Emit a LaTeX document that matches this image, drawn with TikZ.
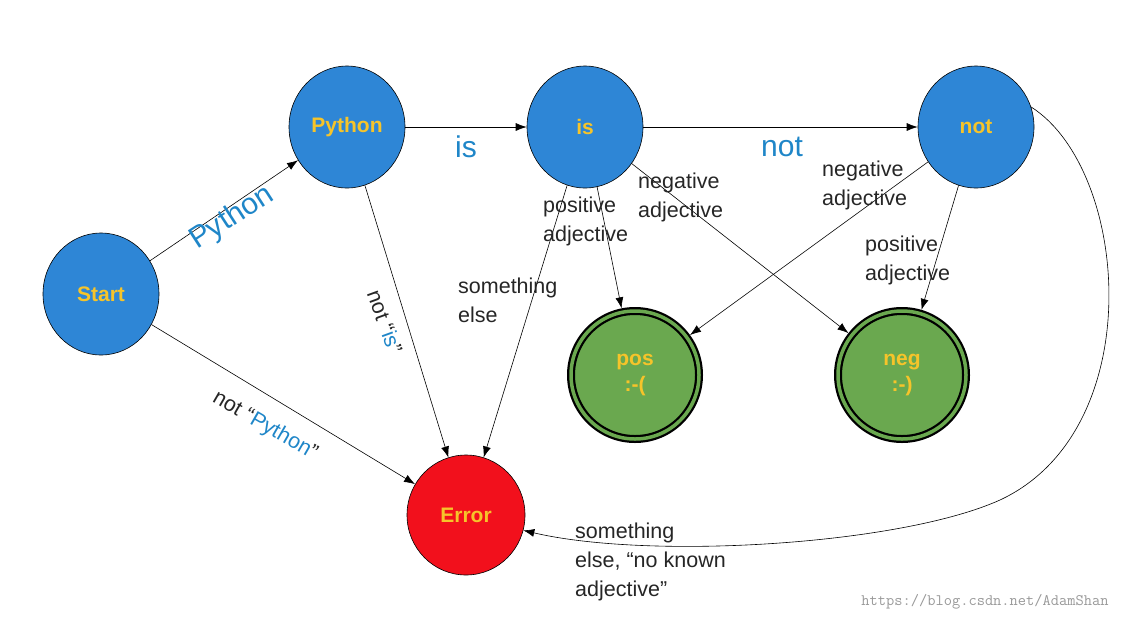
\documentclass[tikz,border=0pt]{standalone}
\usepackage{fontspec}
\setmainfont{Liberation Sans}
\usetikzlibrary{arrows.meta,shapes.geometric}
\definecolor{nblue}{HTML}{2E86D6}
\definecolor{ntxt}{HTML}{F6C42A}
\definecolor{nred}{HTML}{F2101C}
\definecolor{ngreen}{HTML}{6AA84F}
\definecolor{lblue}{HTML}{1F86C8}
\begin{document}
\begin{tikzpicture}[x=1pt,y=-1pt,
  st/.style={ellipse,draw=black,line width=0.6pt,fill=nblue,minimum width=116pt,minimum height=122pt,inner sep=0pt,text=ntxt,font=\fontsize{21}{23}\selectfont\bfseries},
  fin/.style={circle,draw=black,line width=8pt,fill=ngreen,minimum width=128pt,minimum height=128pt,inner sep=0pt,text=ntxt,font=\fontsize{21}{26}\selectfont\bfseries,align=center,
     postaction={draw=ngreen,line width=3.5pt}},
  e/.style={-{Latex[length=11pt,width=8pt]},line width=0.6pt},
  lb/.style={font=\fontsize{21.5}{29}\selectfont,text=black!85,align=left,inner sep=0pt},
  bl/.style={font=\fontsize{30}{32}\selectfont,text=lblue,inner sep=0pt}]
\useasboundingbox (0,0) rectangle (1146,622);
\node[st] (start) at (101,294) {Start};
\node[st] (python) at (347,127) {Python};
\node[st] (is) at (585,127) {is};
\node[st] (not) at (976,127) {not};
\node[st,fill=nred,minimum height=120pt,minimum width=118pt] (err) at (466,515) {Error};
\node[fin] (pos) at (635,375) {pos\\:-(};
\node[fin] (neg) at (902,375) {neg\\:-)};
\draw[e] (start) -- (python);
\draw[e] (python) -- (is);
\draw[e] (is) -- (not);
\draw[e] (start) -- (err);
\draw[e] (python) -- (err);
\draw[e] (is) -- (err);
\draw[e] (is) -- (pos);
\draw[e] (is) -- (neg);
\draw[e] (not) -- (pos);
\draw[e] (not) -- (neg);
\draw[e] (not.20) .. controls (1130,170) and (1150,430) .. (1000,500) .. controls (900,545) and (650,560) .. (err.-15);
\node[bl,rotate=33] (l1) at (232,218) {Python};
\node[bl] (l2) at (466,147) {is};
\node[bl] (l3) at (782,147) {not};
\node[lb,rotate=-70] (l4) at (385,322) {not “\textcolor{lblue}{is}”};
\node[lb,rotate=-30] (l5) at (265,426) {not “\textcolor{lblue}{Python}”};
\node[lb,anchor=west] (l6) at (458,300) {something\\else};
\node[lb,anchor=west] (l7) at (543,221) {positive\\adjective};
\node[lb,anchor=west] (l8) at (638,197) {negative\\adjective};
\node[lb,anchor=west] (l9) at (822,185) {negative\\adjective};
\node[lb,anchor=west] (l10) at (865,260) {positive\\adjective};
\node[lb,anchor=west] (l11) at (575,562) {something\\else, “no known\\adjective”};
\node[font=\fontsize{16}{18}\ttfamily,text=black!40] (wm) at (985,602) {https://blog.csdn.net/AdamShan};
\end{tikzpicture}
\end{document}
